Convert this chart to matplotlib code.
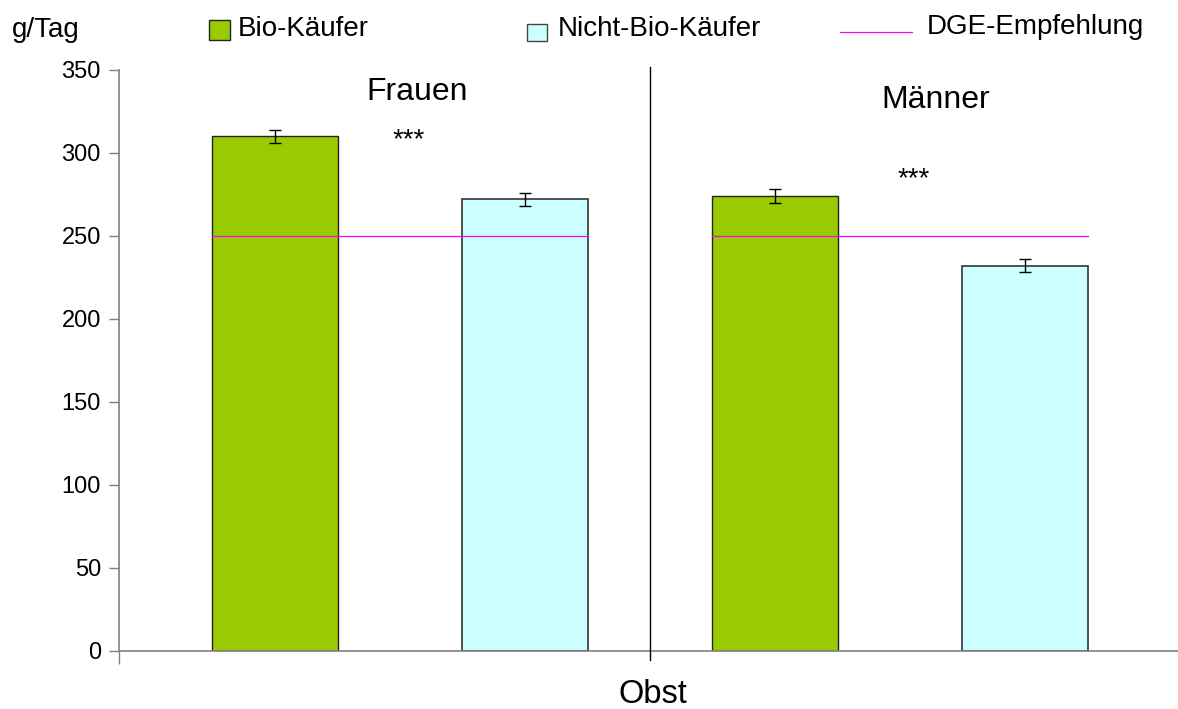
import matplotlib
matplotlib.use("Agg")
import matplotlib.pyplot as plt
from matplotlib.patches import Rectangle
from matplotlib.lines import Line2D

plt.rcParams['font.family'] = ['Liberation Sans', 'DejaVu Sans']

# Obst intake, g/Tag
groups = ['Frauen', 'Männer']
bio = [310, 274]
bio_err = [4, 4]
nicht_bio = [272, 232]
nicht_bio_err = [4, 4]
dge = 250
signif = ['***', '***']

W, H = 1178, 709
fig = plt.figure(figsize=(W / 100, H / 100), dpi=100, facecolor='white')
ax = fig.add_axes([119 / W, 1 - 650.5 / H, 1 - 119 / W, (650.5 - 70) / H])

pos = [0, 1]
bw = 0.252
off = 0.25
green = '#99CC00'
cyan = '#CCFFFF'

for i, g in enumerate(pos):
    ax.bar(g - off, bio[i], bw, color=green, edgecolor='#222222', linewidth=1, zorder=2)
    ax.bar(g + off, nicht_bio[i], bw, color=cyan, edgecolor='#333333', linewidth=1.2, zorder=2)
    ax.errorbar([g - off, g + off], [bio[i], nicht_bio[i]],
                yerr=[bio_err[i], nicht_bio_err[i]], fmt='none', ecolor='black',
                elinewidth=1, capsize=4, capthick=1, zorder=4)
    # DGE recommendation across the group
    ax.plot([g - off - bw / 2, g + off + bw / 2], [dge, dge], color='#FF00FF',
            linewidth=0.9, zorder=5)

# divider between groups
ax.plot([0.5, 0.5], [-5.7, 351.8], color='black', linewidth=1, clip_on=False, zorder=3)

ax.text(0.034, 331.9, groups[0], fontsize=23, ha='center', va='baseline')
ax.text(1.072, 327.1, groups[1], fontsize=23, ha='center', va='baseline')
ax.text(0.017, 303.6, signif[0], fontsize=20, ha='center', va='baseline')
ax.text(1.028, 280.0, signif[1], fontsize=20, ha='center', va='baseline')

ax.set_xlim(-0.562, 1.556)
ax.set_ylim(0, 350)
ax.set_yticks(range(0, 351, 50))
ax.set_xticks([-0.562])
ax.set_xticklabels([''])
ax.tick_params(axis='y', direction='out', length=7, width=1, color='#808080',
               labelsize=17, pad=6)
ax.tick_params(axis='x', direction='out', length=9, width=1, color='#808080')
for s in ['top', 'right']:
    ax.spines[s].set_visible(False)
for s in ['left', 'bottom']:
    ax.spines[s].set_color('#808080')
    ax.spines[s].set_linewidth(1.2)

# axis titles
fig.text(12 / W, 1 - 37 / H, 'g/Tag', fontsize=20, ha='left', va='baseline')
fig.text(653 / W, 1 - 703 / H, 'Obst', fontsize=23.5, ha='center', va='baseline')

# legend row
fig.add_artist(Rectangle((209 / W, 1 - 40 / H), 21 / W, 20 / H, transform=fig.transFigure,
                         facecolor=green, edgecolor='#222222', linewidth=1))
fig.text(238 / W, 1 - 36 / H, 'Bio-Käufer', fontsize=20, ha='left', va='baseline')
fig.add_artist(Rectangle((527 / W, 1 - 41 / H), 20 / W, 17 / H, transform=fig.transFigure,
                         facecolor=cyan, edgecolor='#444444', linewidth=1))
fig.text(558 / W, 1 - 36 / H, 'Nicht-Bio-Käufer', fontsize=20, ha='left', va='baseline')
fig.add_artist(Line2D([840 / W, 912 / W], [1 - 32 / H, 1 - 32 / H],
                      transform=fig.transFigure, color='#FF00FF', linewidth=0.9))
fig.text(927 / W, 1 - 34 / H, 'DGE-Empfehlung', fontsize=20, ha='left', va='baseline')

fig.savefig('out.png', dpi=100, facecolor='white')
